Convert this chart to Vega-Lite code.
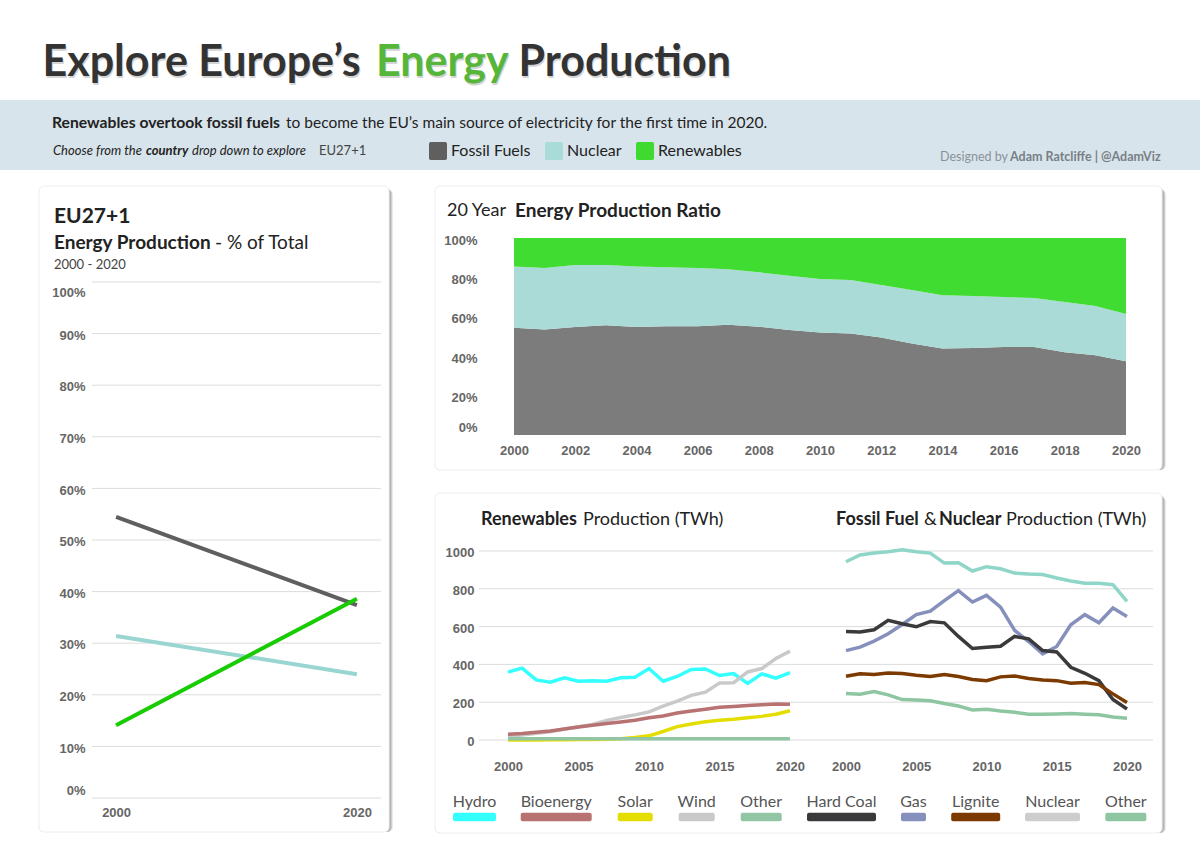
{
  "$schema": "https://vega.github.io/schema/vega-lite/v6.json",
  "padding": 0,
  "background": "white",
  "config": {
    "view": {"stroke": null},
    "text": {"font": "Lato", "baseline": "middle", "align": "left", "color": "#222"},
    "axis": {"domain": false, "ticks": false, "tickSize": 0, "grid": false, "labelPadding": 0, "labelFlush": false, "labelFont": "Liberation Sans", "labelFontWeight": "bold", "labelFontSize": 13, "labelColor": "#666"}
  },
  "data": {"values": [{}]},
  "datasets": {
    "sources": [{"source": "Fossil Fuels"}, {"source": "Nuclear"}, {"source": "Renewables"}],
    "ends": [
      {"year": 2000, "source": "Fossil Fuels", "pct": 54.5}, {"year": 2020, "source": "Fossil Fuels", "pct": 37.4},
      {"year": 2000, "source": "Nuclear", "pct": 31.4}, {"year": 2020, "source": "Nuclear", "pct": 24},
      {"year": 2000, "source": "Renewables", "pct": 14.1}, {"year": 2020, "source": "Renewables", "pct": 38.6}
    ],
    "pctTicks": [{"pct": 0}, {"pct": 10}, {"pct": 20}, {"pct": 30}, {"pct": 40}, {"pct": 50}, {"pct": 60}, {"pct": 70}, {"pct": 80}, {"pct": 90}, {"pct": 100}],
    "twhTicks": [{"twh": 0}, {"twh": 200}, {"twh": 400}, {"twh": 600}, {"twh": 800}, {"twh": 1000}],
    "ratio": [
      {"year": 2000, "source": "Fossil Fuels", "share": 54.5}, {"year": 2000, "source": "Nuclear", "share": 31}, {"year": 2000, "source": "Renewables", "share": 14.5},
      {"year": 2001, "source": "Fossil Fuels", "share": 53.5}, {"year": 2001, "source": "Nuclear", "share": 31.3}, {"year": 2001, "source": "Renewables", "share": 15.2},
      {"year": 2002, "source": "Fossil Fuels", "share": 54.8}, {"year": 2002, "source": "Nuclear", "share": 31.5}, {"year": 2002, "source": "Renewables", "share": 13.7},
      {"year": 2003, "source": "Fossil Fuels", "share": 55.7}, {"year": 2003, "source": "Nuclear", "share": 30.6}, {"year": 2003, "source": "Renewables", "share": 13.7},
      {"year": 2004, "source": "Fossil Fuels", "share": 54.8}, {"year": 2004, "source": "Nuclear", "share": 30.7}, {"year": 2004, "source": "Renewables", "share": 14.5},
      {"year": 2005, "source": "Fossil Fuels", "share": 55.2}, {"year": 2005, "source": "Nuclear", "share": 30}, {"year": 2005, "source": "Renewables", "share": 14.8},
      {"year": 2006, "source": "Fossil Fuels", "share": 55.2}, {"year": 2006, "source": "Nuclear", "share": 29.6}, {"year": 2006, "source": "Renewables", "share": 15.2},
      {"year": 2007, "source": "Fossil Fuels", "share": 56}, {"year": 2007, "source": "Nuclear", "share": 28.2}, {"year": 2007, "source": "Renewables", "share": 15.8},
      {"year": 2008, "source": "Fossil Fuels", "share": 55}, {"year": 2008, "source": "Nuclear", "share": 27.6}, {"year": 2008, "source": "Renewables", "share": 17.4},
      {"year": 2009, "source": "Fossil Fuels", "share": 53.3}, {"year": 2009, "source": "Nuclear", "share": 27.6}, {"year": 2009, "source": "Renewables", "share": 19.1},
      {"year": 2010, "source": "Fossil Fuels", "share": 52}, {"year": 2010, "source": "Nuclear", "share": 27.2}, {"year": 2010, "source": "Renewables", "share": 20.8},
      {"year": 2011, "source": "Fossil Fuels", "share": 51.5}, {"year": 2011, "source": "Nuclear", "share": 27.2}, {"year": 2011, "source": "Renewables", "share": 21.3},
      {"year": 2012, "source": "Fossil Fuels", "share": 49.5}, {"year": 2012, "source": "Nuclear", "share": 26.6}, {"year": 2012, "source": "Renewables", "share": 23.9},
      {"year": 2013, "source": "Fossil Fuels", "share": 46.5}, {"year": 2013, "source": "Nuclear", "share": 27.1}, {"year": 2013, "source": "Renewables", "share": 26.4},
      {"year": 2014, "source": "Fossil Fuels", "share": 43.9}, {"year": 2014, "source": "Nuclear", "share": 27.1}, {"year": 2014, "source": "Renewables", "share": 29},
      {"year": 2015, "source": "Fossil Fuels", "share": 44.2}, {"year": 2015, "source": "Nuclear", "share": 26.4}, {"year": 2015, "source": "Renewables", "share": 29.4},
      {"year": 2016, "source": "Fossil Fuels", "share": 44.7}, {"year": 2016, "source": "Nuclear", "share": 25.3}, {"year": 2016, "source": "Renewables", "share": 30},
      {"year": 2017, "source": "Fossil Fuels", "share": 44.7}, {"year": 2017, "source": "Nuclear", "share": 24.8}, {"year": 2017, "source": "Renewables", "share": 30.5},
      {"year": 2018, "source": "Fossil Fuels", "share": 42}, {"year": 2018, "source": "Nuclear", "share": 25.5}, {"year": 2018, "source": "Renewables", "share": 32.5},
      {"year": 2019, "source": "Fossil Fuels", "share": 40.5}, {"year": 2019, "source": "Nuclear", "share": 25}, {"year": 2019, "source": "Renewables", "share": 34.5},
      {"year": 2020, "source": "Fossil Fuels", "share": 37.4}, {"year": 2020, "source": "Nuclear", "share": 24}, {"year": 2020, "source": "Renewables", "share": 38.6}
    ],
    "renewables": [
      {"year": 2000, "series": "Hydro", "twh": 359}, {"year": 2001, "series": "Hydro", "twh": 380}, {"year": 2002, "series": "Hydro", "twh": 318}, {"year": 2003, "series": "Hydro", "twh": 306}, {"year": 2004, "series": "Hydro", "twh": 329}, {"year": 2005, "series": "Hydro", "twh": 311}, {"year": 2006, "series": "Hydro", "twh": 313}, {"year": 2007, "series": "Hydro", "twh": 311}, {"year": 2008, "series": "Hydro", "twh": 329}, {"year": 2009, "series": "Hydro", "twh": 332}, {"year": 2010, "series": "Hydro", "twh": 378}, {"year": 2011, "series": "Hydro", "twh": 311}, {"year": 2012, "series": "Hydro", "twh": 336}, {"year": 2013, "series": "Hydro", "twh": 373}, {"year": 2014, "series": "Hydro", "twh": 376}, {"year": 2015, "series": "Hydro", "twh": 341}, {"year": 2016, "series": "Hydro", "twh": 352}, {"year": 2017, "series": "Hydro", "twh": 299}, {"year": 2018, "series": "Hydro", "twh": 350}, {"year": 2019, "series": "Hydro", "twh": 327}, {"year": 2020, "series": "Hydro", "twh": 357},
      {"year": 2000, "series": "Wind", "twh": 22}, {"year": 2001, "series": "Wind", "twh": 27}, {"year": 2002, "series": "Wind", "twh": 36}, {"year": 2003, "series": "Wind", "twh": 44}, {"year": 2004, "series": "Wind", "twh": 58}, {"year": 2005, "series": "Wind", "twh": 70}, {"year": 2006, "series": "Wind", "twh": 82}, {"year": 2007, "series": "Wind", "twh": 104}, {"year": 2008, "series": "Wind", "twh": 119}, {"year": 2009, "series": "Wind", "twh": 133}, {"year": 2010, "series": "Wind", "twh": 149}, {"year": 2011, "series": "Wind", "twh": 179}, {"year": 2012, "series": "Wind", "twh": 206}, {"year": 2013, "series": "Wind", "twh": 236}, {"year": 2014, "series": "Wind", "twh": 253}, {"year": 2015, "series": "Wind", "twh": 302}, {"year": 2016, "series": "Wind", "twh": 303}, {"year": 2017, "series": "Wind", "twh": 360}, {"year": 2018, "series": "Wind", "twh": 378}, {"year": 2019, "series": "Wind", "twh": 431}, {"year": 2020, "series": "Wind", "twh": 470},
      {"year": 2000, "series": "Solar", "twh": 0}, {"year": 2001, "series": "Solar", "twh": 0}, {"year": 2002, "series": "Solar", "twh": 0}, {"year": 2003, "series": "Solar", "twh": 1}, {"year": 2004, "series": "Solar", "twh": 1}, {"year": 2005, "series": "Solar", "twh": 2}, {"year": 2006, "series": "Solar", "twh": 3}, {"year": 2007, "series": "Solar", "twh": 4}, {"year": 2008, "series": "Solar", "twh": 7}, {"year": 2009, "series": "Solar", "twh": 13}, {"year": 2010, "series": "Solar", "twh": 22}, {"year": 2011, "series": "Solar", "twh": 45}, {"year": 2012, "series": "Solar", "twh": 71}, {"year": 2013, "series": "Solar", "twh": 85}, {"year": 2014, "series": "Solar", "twh": 96}, {"year": 2015, "series": "Solar", "twh": 105}, {"year": 2016, "series": "Solar", "twh": 110}, {"year": 2017, "series": "Solar", "twh": 118}, {"year": 2018, "series": "Solar", "twh": 125}, {"year": 2019, "series": "Solar", "twh": 136}, {"year": 2020, "series": "Solar", "twh": 155},
      {"year": 2000, "series": "Bioenergy", "twh": 30}, {"year": 2001, "series": "Bioenergy", "twh": 34}, {"year": 2002, "series": "Bioenergy", "twh": 41}, {"year": 2003, "series": "Bioenergy", "twh": 48}, {"year": 2004, "series": "Bioenergy", "twh": 58}, {"year": 2005, "series": "Bioenergy", "twh": 69}, {"year": 2006, "series": "Bioenergy", "twh": 78}, {"year": 2007, "series": "Bioenergy", "twh": 87}, {"year": 2008, "series": "Bioenergy", "twh": 95}, {"year": 2009, "series": "Bioenergy", "twh": 104}, {"year": 2010, "series": "Bioenergy", "twh": 118}, {"year": 2011, "series": "Bioenergy", "twh": 127}, {"year": 2012, "series": "Bioenergy", "twh": 143}, {"year": 2013, "series": "Bioenergy", "twh": 154}, {"year": 2014, "series": "Bioenergy", "twh": 163}, {"year": 2015, "series": "Bioenergy", "twh": 173}, {"year": 2016, "series": "Bioenergy", "twh": 177}, {"year": 2017, "series": "Bioenergy", "twh": 182}, {"year": 2018, "series": "Bioenergy", "twh": 187}, {"year": 2019, "series": "Bioenergy", "twh": 191}, {"year": 2020, "series": "Bioenergy", "twh": 189},
      {"year": 2000, "series": "Other", "twh": 6}, {"year": 2001, "series": "Other", "twh": 6}, {"year": 2002, "series": "Other", "twh": 6}, {"year": 2003, "series": "Other", "twh": 6}, {"year": 2004, "series": "Other", "twh": 6}, {"year": 2005, "series": "Other", "twh": 6}, {"year": 2006, "series": "Other", "twh": 6}, {"year": 2007, "series": "Other", "twh": 6}, {"year": 2008, "series": "Other", "twh": 6}, {"year": 2009, "series": "Other", "twh": 6}, {"year": 2010, "series": "Other", "twh": 6}, {"year": 2011, "series": "Other", "twh": 6}, {"year": 2012, "series": "Other", "twh": 6}, {"year": 2013, "series": "Other", "twh": 7}, {"year": 2014, "series": "Other", "twh": 7}, {"year": 2015, "series": "Other", "twh": 7}, {"year": 2016, "series": "Other", "twh": 7}, {"year": 2017, "series": "Other", "twh": 7}, {"year": 2018, "series": "Other", "twh": 7}, {"year": 2019, "series": "Other", "twh": 7}, {"year": 2020, "series": "Other", "twh": 7}
    ],
    "fossil": [
      {"year": 2000, "series": "Nuclear", "twh": 943}, {"year": 2001, "series": "Nuclear", "twh": 979}, {"year": 2002, "series": "Nuclear", "twh": 989}, {"year": 2003, "series": "Nuclear", "twh": 996}, {"year": 2004, "series": "Nuclear", "twh": 1007}, {"year": 2005, "series": "Nuclear", "twh": 996}, {"year": 2006, "series": "Nuclear", "twh": 989}, {"year": 2007, "series": "Nuclear", "twh": 936}, {"year": 2008, "series": "Nuclear", "twh": 938}, {"year": 2009, "series": "Nuclear", "twh": 894}, {"year": 2010, "series": "Nuclear", "twh": 917}, {"year": 2011, "series": "Nuclear", "twh": 906}, {"year": 2012, "series": "Nuclear", "twh": 883}, {"year": 2013, "series": "Nuclear", "twh": 878}, {"year": 2014, "series": "Nuclear", "twh": 876}, {"year": 2015, "series": "Nuclear", "twh": 857}, {"year": 2016, "series": "Nuclear", "twh": 841}, {"year": 2017, "series": "Nuclear", "twh": 830}, {"year": 2018, "series": "Nuclear", "twh": 829}, {"year": 2019, "series": "Nuclear", "twh": 822}, {"year": 2020, "series": "Nuclear", "twh": 733},
      {"year": 2000, "series": "Other", "twh": 246}, {"year": 2001, "series": "Other", "twh": 242}, {"year": 2002, "series": "Other", "twh": 256}, {"year": 2003, "series": "Other", "twh": 239}, {"year": 2004, "series": "Other", "twh": 214}, {"year": 2005, "series": "Other", "twh": 212}, {"year": 2006, "series": "Other", "twh": 208}, {"year": 2007, "series": "Other", "twh": 193}, {"year": 2008, "series": "Other", "twh": 180}, {"year": 2009, "series": "Other", "twh": 159}, {"year": 2010, "series": "Other", "twh": 163}, {"year": 2011, "series": "Other", "twh": 154}, {"year": 2012, "series": "Other", "twh": 147}, {"year": 2013, "series": "Other", "twh": 136}, {"year": 2014, "series": "Other", "twh": 136}, {"year": 2015, "series": "Other", "twh": 138}, {"year": 2016, "series": "Other", "twh": 140}, {"year": 2017, "series": "Other", "twh": 136}, {"year": 2018, "series": "Other", "twh": 133}, {"year": 2019, "series": "Other", "twh": 122}, {"year": 2020, "series": "Other", "twh": 115},
      {"year": 2000, "series": "Gas", "twh": 473}, {"year": 2001, "series": "Gas", "twh": 491}, {"year": 2002, "series": "Gas", "twh": 523}, {"year": 2003, "series": "Gas", "twh": 562}, {"year": 2004, "series": "Gas", "twh": 611}, {"year": 2005, "series": "Gas", "twh": 664}, {"year": 2006, "series": "Gas", "twh": 682}, {"year": 2007, "series": "Gas", "twh": 737}, {"year": 2008, "series": "Gas", "twh": 790}, {"year": 2009, "series": "Gas", "twh": 730}, {"year": 2010, "series": "Gas", "twh": 765}, {"year": 2011, "series": "Gas", "twh": 703}, {"year": 2012, "series": "Gas", "twh": 580}, {"year": 2013, "series": "Gas", "twh": 521}, {"year": 2014, "series": "Gas", "twh": 456}, {"year": 2015, "series": "Gas", "twh": 495}, {"year": 2016, "series": "Gas", "twh": 610}, {"year": 2017, "series": "Gas", "twh": 663}, {"year": 2018, "series": "Gas", "twh": 620}, {"year": 2019, "series": "Gas", "twh": 698}, {"year": 2020, "series": "Gas", "twh": 654},
      {"year": 2000, "series": "Hard Coal", "twh": 574}, {"year": 2001, "series": "Hard Coal", "twh": 572}, {"year": 2002, "series": "Hard Coal", "twh": 583}, {"year": 2003, "series": "Hard Coal", "twh": 633}, {"year": 2004, "series": "Hard Coal", "twh": 615}, {"year": 2005, "series": "Hard Coal", "twh": 599}, {"year": 2006, "series": "Hard Coal", "twh": 627}, {"year": 2007, "series": "Hard Coal", "twh": 620}, {"year": 2008, "series": "Hard Coal", "twh": 548}, {"year": 2009, "series": "Hard Coal", "twh": 484}, {"year": 2010, "series": "Hard Coal", "twh": 491}, {"year": 2011, "series": "Hard Coal", "twh": 496}, {"year": 2012, "series": "Hard Coal", "twh": 548}, {"year": 2013, "series": "Hard Coal", "twh": 535}, {"year": 2014, "series": "Hard Coal", "twh": 473}, {"year": 2015, "series": "Hard Coal", "twh": 466}, {"year": 2016, "series": "Hard Coal", "twh": 385}, {"year": 2017, "series": "Hard Coal", "twh": 353}, {"year": 2018, "series": "Hard Coal", "twh": 314}, {"year": 2019, "series": "Hard Coal", "twh": 214}, {"year": 2020, "series": "Hard Coal", "twh": 164},
      {"year": 2000, "series": "Lignite", "twh": 337}, {"year": 2001, "series": "Lignite", "twh": 350}, {"year": 2002, "series": "Lignite", "twh": 346}, {"year": 2003, "series": "Lignite", "twh": 355}, {"year": 2004, "series": "Lignite", "twh": 352}, {"year": 2005, "series": "Lignite", "twh": 343}, {"year": 2006, "series": "Lignite", "twh": 336}, {"year": 2007, "series": "Lignite", "twh": 346}, {"year": 2008, "series": "Lignite", "twh": 336}, {"year": 2009, "series": "Lignite", "twh": 320}, {"year": 2010, "series": "Lignite", "twh": 314}, {"year": 2011, "series": "Lignite", "twh": 334}, {"year": 2012, "series": "Lignite", "twh": 339}, {"year": 2013, "series": "Lignite", "twh": 325}, {"year": 2014, "series": "Lignite", "twh": 318}, {"year": 2015, "series": "Lignite", "twh": 314}, {"year": 2016, "series": "Lignite", "twh": 300}, {"year": 2017, "series": "Lignite", "twh": 304}, {"year": 2018, "series": "Lignite", "twh": 293}, {"year": 2019, "series": "Lignite", "twh": 244}, {"year": 2020, "series": "Lignite", "twh": 198}
    ],
    "keys": [
      {"rank": 0, "series": "Hydro"}, {"rank": 1, "series": "Bioenergy"}, {"rank": 2, "series": "Solar"}, {"rank": 3, "series": "Wind"}, {"rank": 4, "series": "Other"},
      {"rank": 5, "series": "Hard Coal"}, {"rank": 6, "series": "Gas"}, {"rank": 7, "series": "Lignite"}, {"rank": 8, "series": "Nuclear"}, {"rank": 9, "series": "Other"}
    ]
  },
  "resolve": {"scale": {"color": "independent"}, "legend": {"color": "independent"}},
  "spacing": 15,
  "vconcat": [
    {
      "bounds": "flush",
      "spacing": 0,
      "resolve": {"scale": {"color": "independent"}, "legend": {"color": "independent"}},
      "vconcat": [
        {
          "width": 1200,
          "height": 100,
          "layer": [
            {"mark": {"type": "text", "text": "Explore Europe’s", "dx": -556.5, "dy": 15, "font": "Lato", "fontSize": 43, "fontWeight": 700, "color": "#aaa", "opacity": 0.5}},
            {"mark": {"type": "text", "text": "Energy", "dx": -223, "dy": 15, "font": "Lato", "fontSize": 43, "fontWeight": 700, "color": "#aaa", "opacity": 0.5}},
            {"mark": {"type": "text", "text": "Production", "dx": -80.5, "dy": 15, "font": "Lato", "fontSize": 43, "fontWeight": 700, "color": "#aaa", "opacity": 0.5}},
            {"mark": {"type": "text", "text": "Explore Europe’s", "dx": -557.5, "dy": 13, "font": "Lato", "fontSize": 43, "fontWeight": 700, "color": "#333"}},
            {"mark": {"type": "text", "text": "Energy", "dx": -224, "dy": 13, "font": "Lato", "fontSize": 43, "fontWeight": 700, "color": "#55B63A"}},
            {"mark": {"type": "text", "text": "Production", "dx": -81.5, "dy": 13, "font": "Lato", "fontSize": 43, "fontWeight": 700, "color": "#333"}}
          ]
        },
        {
          "width": 1200,
          "height": 70,
          "view": {"fill": "#D8E4EC"},
          "layer": [
            {"mark": {"type": "text", "text": "Renewables overtook fossil fuels", "dx": -548, "dy": -12, "fontSize": 15.7, "fontWeight": 700}},
            {"mark": {"type": "text", "text": "to become the EU’s main source of electricity for the first time in 2020.", "dx": -314, "dy": -12, "fontSize": 15.5}},
            {"mark": {"type": "text", "text": "Choose from the", "dx": -547, "dy": 16, "fontSize": 13, "fontStyle": "italic"}},
            {"mark": {"type": "text", "text": "country", "dx": -454, "dy": 16, "fontSize": 13, "fontStyle": "italic", "fontWeight": 700}},
            {"mark": {"type": "text", "text": "drop down to explore", "dx": -408, "dy": 16, "fontSize": 13, "fontStyle": "italic"}},
            {"mark": {"type": "text", "text": "EU27+1", "dx": -281, "dy": 16, "fontSize": 13, "color": "#444"}},
            {"mark": {"type": "text", "text": "Designed by", "dx": 340, "dy": 22, "fontSize": 12.5, "color": "#8a9298"}},
            {"mark": {"type": "text", "text": "Adam Ratcliffe | @AdamViz", "dx": 410, "dy": 22, "fontSize": 12.5, "fontWeight": 700, "color": "#777f85"}},
            {
              "data": {"name": "sources"},
              "mark": {"type": "point", "filled": true, "size": 0},
              "encoding": {
                "color": {
                  "field": "source",
                  "type": "nominal",
                  "scale": {"domain": ["Fossil Fuels", "Nuclear", "Renewables"], "range": ["#5F5F5F", "#A9DCD8", "#3FD92F"]},
                  "legend": {"title": null, "orient": "none", "legendX": 429, "legendY": 42, "direction": "horizontal", "symbolType": "M-.8,-1H.8Q1,-1 1,-.8V.8Q1,1 .8,1H-.8Q-1,1 -1,.8V-.8Q-1,-1 -.8,-1Z", "symbolSize": 324, "symbolStrokeWidth": 0, "symbolOpacity": 1, "labelFont": "Lato", "labelFontSize": 16, "labelColor": "#222", "labelOffset": 4, "columnPadding": 14}
                }
              }
            }
          ]
        }
      ]
    },
    {
      "bounds": "flush",
      "spacing": 38,
      "resolve": {"scale": {"color": "independent"}, "legend": {"color": "independent"}},
      "hconcat": [
        {"width": 1, "height": 1, "mark": {"type": "rect", "opacity": 0}},
        {
          "bounds": "flush",
          "spacing": 46,
          "resolve": {"scale": {"color": "independent"}, "legend": {"color": "independent"}},
          "hconcat": [
            {
              "width": 350,
              "height": 646,
              "layer": [
                {"mark": {"type": "rect", "cornerRadius": 5, "color": "#555", "opacity": 0.12, "xOffset": 4, "x2Offset": 4, "yOffset": 4, "y2Offset": 4}},
                {"mark": {"type": "rect", "cornerRadius": 5, "color": "#555", "opacity": 0.18, "xOffset": 3, "x2Offset": 3, "yOffset": 3, "y2Offset": 3}},
                {"mark": {"type": "rect", "cornerRadius": 5, "color": "#555", "opacity": 0.22, "xOffset": 2, "x2Offset": 2, "yOffset": 2, "y2Offset": 2}},
                {"mark": {"type": "rect", "cornerRadius": 5, "fill": "white", "stroke": "#eeeeee"}},
                {"mark": {"type": "text", "text": "EU27+1", "dx": -160, "dy": -292, "fontSize": 21, "fontWeight": 700}},
                {"mark": {"type": "text", "text": "Energy Production", "dx": -160, "dy": -266, "fontSize": 19, "fontWeight": 700}},
                {"mark": {"type": "text", "text": "- % of Total", "dx": 1, "dy": -266, "fontSize": 19}},
                {"mark": {"type": "text", "text": "2000 - 2020", "dx": -160, "dy": -244, "fontSize": 13, "color": "#444"}},
                {
                  "data": {"name": "pctTicks"},
                  "mark": {"type": "rule", "color": "#DCDCDC", "strokeWidth": 1},
                  "encoding": {
                    "x": {"datum": 1998, "type": "quantitative", "scale": {"domain": [1998, 2022], "range": [53, 342]}, "axis": {"title": null, "values": [2000, 2020], "format": "d", "offset": -26, "zindex": 1}},
                    "x2": {"datum": 2022},
                    "y": {"field": "pct", "type": "quantitative", "scale": {"domain": [0, 100], "range": [612, 96]}, "axis": {"title": null, "values": [0, 10, 20, 30, 40, 50, 60, 70, 80, 90, 100], "labelExpr": "datum.value + '%'", "labelOffset": {"condition": [{"test": "datum.value === 100", "value": 10}, {"test": "datum.value === 0", "value": -8}], "value": 1.6}, "offset": -46, "zindex": 1}}
                  }
                },
                {
                  "data": {"name": "ends"},
                  "mark": {"type": "line", "strokeWidth": 4},
                  "encoding": {
                    "x": {"field": "year", "type": "quantitative"},
                    "y": {"field": "pct", "type": "quantitative"},
                    "color": {"field": "source", "type": "nominal", "scale": {"domain": ["Fossil Fuels", "Nuclear", "Renewables"], "range": ["#5F5F5F", "#99D6D2", "#17CC00"]}, "legend": null}
                  }
                }
              ]
            },
            {
              "bounds": "flush",
              "spacing": 23,
              "resolve": {"scale": {"color": "independent"}, "legend": {"color": "independent"}},
              "vconcat": [
                {
                  "width": 727,
                  "height": 284,
                  "layer": [
                    {"mark": {"type": "rect", "cornerRadius": 5, "color": "#555", "opacity": 0.12, "xOffset": 4, "x2Offset": 4, "yOffset": 4, "y2Offset": 4}},
                    {"mark": {"type": "rect", "cornerRadius": 5, "color": "#555", "opacity": 0.18, "xOffset": 3, "x2Offset": 3, "yOffset": 3, "y2Offset": 3}},
                    {"mark": {"type": "rect", "cornerRadius": 5, "color": "#555", "opacity": 0.22, "xOffset": 2, "x2Offset": 2, "yOffset": 2, "y2Offset": 2}},
                    {"mark": {"type": "rect", "cornerRadius": 5, "fill": "white", "stroke": "#eeeeee"}},
                    {"mark": {"type": "text", "text": "20 Year", "dx": -351.5, "dy": -117, "fontSize": 18}},
                    {"mark": {"type": "text", "text": "Energy Production Ratio", "dx": -283.5, "dy": -117, "fontSize": 19, "fontWeight": 700}},
                    {
                      "data": {"name": "ratio"},
                      "mark": {"type": "area"},
                      "encoding": {
                        "x": {"field": "year", "type": "quantitative", "scale": {"domain": [2000, 2020], "range": [79, 691]}, "axis": {"title": null, "values": [2000, 2002, 2004, 2006, 2008, 2010, 2012, 2014, 2016, 2018, 2020], "format": "d", "offset": -26, "zindex": 1}},
                        "y": {"field": "share", "type": "quantitative", "stack": "zero", "scale": {"domain": [0, 100], "range": [249, 52]}, "axis": {"title": null, "values": [0, 20, 40, 60, 80, 100], "labelExpr": "datum.value + '%'", "labelOffset": {"condition": [{"test": "datum.value === 100", "value": 2}, {"test": "datum.value === 0", "value": -8}], "value": 1.8}, "offset": -42, "zindex": 1}},
                        "color": {"field": "source", "type": "nominal", "scale": {"domain": ["Fossil Fuels", "Nuclear", "Renewables"], "range": ["#7C7C7C", "#AADBD7", "#41DC32"]}, "legend": null},
                        "order": {"field": "source", "sort": "ascending"}
                      }
                    }
                  ]
                },
                {
                  "width": 727,
                  "height": 340,
                  "resolve": {"scale": {"x": "independent", "color": "independent", "shape": "independent"}},
                  "layer": [
                    {"mark": {"type": "rect", "cornerRadius": 5, "color": "#555", "opacity": 0.12, "xOffset": 4, "x2Offset": 4, "yOffset": 4, "y2Offset": 4}},
                    {"mark": {"type": "rect", "cornerRadius": 5, "color": "#555", "opacity": 0.18, "xOffset": 3, "x2Offset": 3, "yOffset": 3, "y2Offset": 3}},
                    {"mark": {"type": "rect", "cornerRadius": 5, "color": "#555", "opacity": 0.22, "xOffset": 2, "x2Offset": 2, "yOffset": 2, "y2Offset": 2}},
                    {"mark": {"type": "rect", "cornerRadius": 5, "fill": "white", "stroke": "#eeeeee"}},
                    {"mark": {"type": "text", "text": "Renewables", "dx": -317.5, "dy": -143, "fontSize": 18, "fontWeight": 700}},
                    {"mark": {"type": "text", "text": "Production (TWh)", "dx": -215.5, "dy": -143, "fontSize": 18}},
                    {"mark": {"type": "text", "text": "Fossil Fuel", "dx": 37.5, "dy": -143, "fontSize": 18, "fontWeight": 700}},
                    {"mark": {"type": "text", "text": "&", "dx": 125.5, "dy": -143, "fontSize": 18}},
                    {"mark": {"type": "text", "text": "Nuclear", "dx": 140.5, "dy": -143, "fontSize": 18, "fontWeight": 700}},
                    {"mark": {"type": "text", "text": "Production (TWh)", "dx": 207.5, "dy": -143, "fontSize": 18}},
                    {
                      "data": {"name": "twhTicks"},
                      "mark": {"type": "rule", "color": "#DCDCDC", "strokeWidth": 1},
                      "encoding": {
                        "x": {"datum": 0, "type": "quantitative", "scale": {"domain": [0, 1], "range": [44, 718]}, "axis": null},
                        "x2": {"datum": 1},
                        "y": {"field": "twh", "type": "quantitative", "scale": {"domain": [0, 1000], "range": [247, 58]}, "axis": {"title": null, "values": [0, 200, 400, 600, 800, 1000], "format": "d", "labelOffset": 1.5, "offset": -39, "zindex": 1}}
                      }
                    },
                    {
                      "data": {"name": "renewables"},
                      "mark": {"type": "line", "strokeWidth": 3.5},
                      "encoding": {
                        "x": {"field": "year", "type": "quantitative", "scale": {"domain": [2000, 2020], "range": [73, 355]}, "axis": {"title": null, "orient": "bottom", "values": [2000, 2005, 2010, 2015, 2020], "format": "d", "offset": -73, "zindex": 1}},
                        "y": {"field": "twh", "type": "quantitative"},
                        "color": {"field": "series", "type": "nominal", "scale": {"domain": ["Hydro", "Bioenergy", "Solar", "Wind", "Other"], "range": ["#33FFFF", "#B87272", "#E4DE00", "#C9C9C9", "#92C5A3"]}, "legend": null}
                      }
                    },
                    {
                      "data": {"name": "fossil"},
                      "mark": {"type": "line", "strokeWidth": 3.5},
                      "encoding": {
                        "x": {"field": "year", "type": "quantitative", "scale": {"domain": [2000, 2020], "range": [411, 692]}, "axis": {"title": null, "orient": "bottom", "values": [2000, 2005, 2010, 2015, 2020], "format": "d", "offset": -73, "zindex": 1}},
                        "y": {"field": "twh", "type": "quantitative"},
                        "color": {"field": "series", "type": "nominal", "scale": {"domain": ["Hard Coal", "Gas", "Lignite", "Nuclear", "Other"], "range": ["#3A3A3C", "#8690BC", "#7C3A00", "#8FD6C8", "#8EC6A2"]}, "legend": null}
                      }
                    },
                    {
                      "data": {"name": "keys"},
                      "mark": {"type": "text", "align": "center", "dy": 139, "fontSize": 16, "color": "#555"},
                      "encoding": {
                        "x": {"field": "rank", "type": "quantitative", "scale": {"domain": [0, 1, 2, 3, 4, 5, 6, 7, 8, 9], "range": [39.5, 121.2, 200.2, 261.7, 326.2, 406.5, 478.5, 540.7, 617.5, 690.8]}, "axis": null},
                        "text": {"field": "series"}
                      }
                    },
                    {
                      "data": {"name": "keys"},
                      "mark": {"type": "point", "filled": true, "size": 4, "opacity": 1, "yOffset": 154},
                      "encoding": {
                        "x": {"field": "rank", "type": "quantitative", "scale": {"domain": [0, 1, 2, 3, 4, 5, 6, 7, 8, 9], "range": [39.5, 121.2, 200.2, 261.7, 326.2, 406.5, 478.5, 540.7, 617.5, 690.8]}, "axis": null},
                        "color": {"field": "rank", "type": "ordinal", "scale": {"domain": [0, 1, 2, 3, 4, 5, 6, 7, 8, 9], "range": ["#33FFFF", "#B87272", "#E4DE00", "#C9C9C9", "#92C5A3", "#3A3A3C", "#8690BC", "#7C3A00", "#CDCDCD", "#8EC6A2"]}, "legend": null},
                        "shape": {"field": "rank", "type": "ordinal", "scale": {"domain": [0, 1, 2, 3, 4, 5, 6, 7, 8, 9], "range": [
                          "M-19.5,-4.2H19.5Q21.5,-4.2 21.5,-2.2V2.2Q21.5,4.2 19.5,4.2H-19.5Q-21.5,4.2 -21.5,2.2V-2.2Q-21.5,-4.2 -19.5,-4.2Z",
                          "M-33.5,-4.2H33.5Q35.5,-4.2 35.5,-2.2V2.2Q35.5,4.2 33.5,4.2H-33.5Q-35.5,4.2 -35.5,2.2V-2.2Q-35.5,-4.2 -33.5,-4.2Z",
                          "M-15.5,-4.2H15.5Q17.5,-4.2 17.5,-2.2V2.2Q17.5,4.2 15.5,4.2H-15.5Q-17.5,4.2 -17.5,2.2V-2.2Q-17.5,-4.2 -15.5,-4.2Z",
                          "M-16,-4.2H16Q18,-4.2 18,-2.2V2.2Q18,4.2 16,4.2H-16Q-18,4.2 -18,2.2V-2.2Q-18,-4.2 -16,-4.2Z",
                          "M-18.5,-4.2H18.5Q20.5,-4.2 20.5,-2.2V2.2Q20.5,4.2 18.5,4.2H-18.5Q-20.5,4.2 -20.5,2.2V-2.2Q-20.5,-4.2 -18.5,-4.2Z",
                          "M-32.5,-4.2H32.5Q34.5,-4.2 34.5,-2.2V2.2Q34.5,4.2 32.5,4.2H-32.5Q-34.5,4.2 -34.5,2.2V-2.2Q-34.5,-4.2 -32.5,-4.2Z",
                          "M-10.5,-4.2H10.5Q12.5,-4.2 12.5,-2.2V2.2Q12.5,4.2 10.5,4.2H-10.5Q-12.5,4.2 -12.5,2.2V-2.2Q-12.5,-4.2 -10.5,-4.2Z",
                          "M-22.5,-4.2H22.5Q24.5,-4.2 24.5,-2.2V2.2Q24.5,4.2 22.5,4.2H-22.5Q-24.5,4.2 -24.5,2.2V-2.2Q-24.5,-4.2 -22.5,-4.2Z",
                          "M-25.5,-4.2H25.5Q27.5,-4.2 27.5,-2.2V2.2Q27.5,4.2 25.5,4.2H-25.5Q-27.5,4.2 -27.5,2.2V-2.2Q-27.5,-4.2 -25.5,-4.2Z",
                          "M-18.5,-4.2H18.5Q20.5,-4.2 20.5,-2.2V2.2Q20.5,4.2 18.5,4.2H-18.5Q-20.5,4.2 -20.5,2.2V-2.2Q-20.5,-4.2 -18.5,-4.2Z"
                        ]}, "legend": null}
                      }
                    }
                  ]
                }
              ]
            }
          ]
        }
      ]
    }
  ]
}
